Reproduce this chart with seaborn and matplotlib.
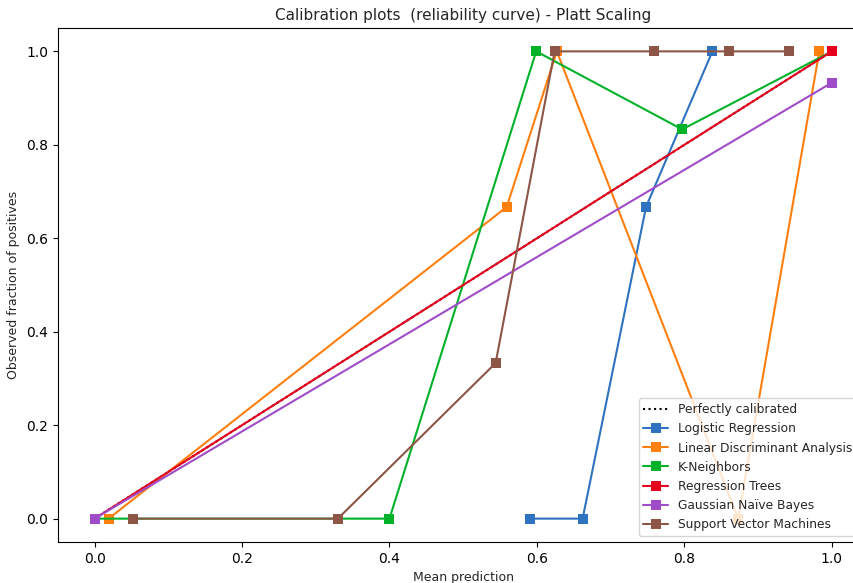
import numpy as np
import pandas as pd
import matplotlib
matplotlib.use('Agg')
import matplotlib.pyplot as plt
import seaborn as sns

perfect_x = [0.0, 1.0]
perfect_y = [0.0, 1.0]

lr_x = [0.59, 0.662, 0.748, 0.838]
lr_y = [0.0, 0.0, 0.667, 1.0]

lda_x = [0.019, 0.559, 0.627, 0.873, 0.983]
lda_y = [0.0, 0.667, 1.0, 0.0, 1.0]

knn_x = [0.0, 0.4, 0.599, 0.797, 1.0]
knn_y = [0.0, 0.0, 1.0, 0.833, 1.0]

tree_x = [0.0, 1.0]
tree_y = [0.0, 1.0]

gnb_x = [0.0, 1.0]
gnb_y = [0.0, 0.933]

svm_x = [0.052, 0.33, 0.544, 0.624, 0.759, 0.861, 0.942]
svm_y = [0.0, 0.0, 0.333, 1.0, 1.0, 1.0, 1.0]

models = [
    ('Logistic Regression', lr_x, lr_y, '#2f72bf'),
    ('Linear Discriminant Analysis', lda_x, lda_y, '#ff7f0e'),
    ('K-Neighbors', knn_x, knn_y, '#00b22a'),
    ('Regression Trees', tree_x, tree_y, '#e6001e'),
    ('Gaussian Naïve Bayes', gnb_x, gnb_y, '#a04cc8'),
    ('Support Vector Machines', svm_x, svm_y, '#8c5546'),
]

sns.set_style('ticks')
plt.rcParams['font.family'] = ['DejaVu Sans']

fig = plt.figure(figsize=(8.54, 5.83), dpi=100)
# l'axe dépasse à droite comme dans l'image d'origine (rognée)
ax = fig.add_axes([57.7/854, 41/583, 811/854, 514/583])

df_perf = pd.DataFrame({'x': perfect_x, 'y': perfect_y})
sns.lineplot(data=df_perf, x='x', y='y', ax=ax, color='k', linestyle=':',
             label='Perfectly calibrated', sort=False, estimator=None)

for name, xs, ys, col in models:
    d = pd.DataFrame({'x': xs, 'y': ys})
    sns.lineplot(data=d, x='x', y='y', ax=ax, color=col, marker='s',
                 markersize=7, markeredgewidth=0, linewidth=1.5,
                 label=name, sort=False, estimator=None)

ax.set_xlim(-0.05, 1.05)
ax.set_ylim(-0.05, 1.05)
ax.set_xticks([0.0, 0.2, 0.4, 0.6, 0.8, 1.0])
ax.set_yticks([0.0, 0.2, 0.4, 0.6, 0.8, 1.0])
for s in ax.spines.values():
    s.set_color('black')
    s.set_linewidth(0.8)
ax.tick_params(colors='black', labelsize=10)
ax.set_xlabel('Mean prediction', fontsize=9)
ax.set_ylabel('Observed fraction of positives', fontsize=9)
ax.set_title('Calibration plots  (reliability curve) - Platt Scaling', fontsize=11)
ax.legend(loc='lower right', fontsize=8.8, frameon=True, framealpha=0.8,
          bbox_to_anchor=(0.993, 0.0))

fig.savefig('out.png', dpi=100)
